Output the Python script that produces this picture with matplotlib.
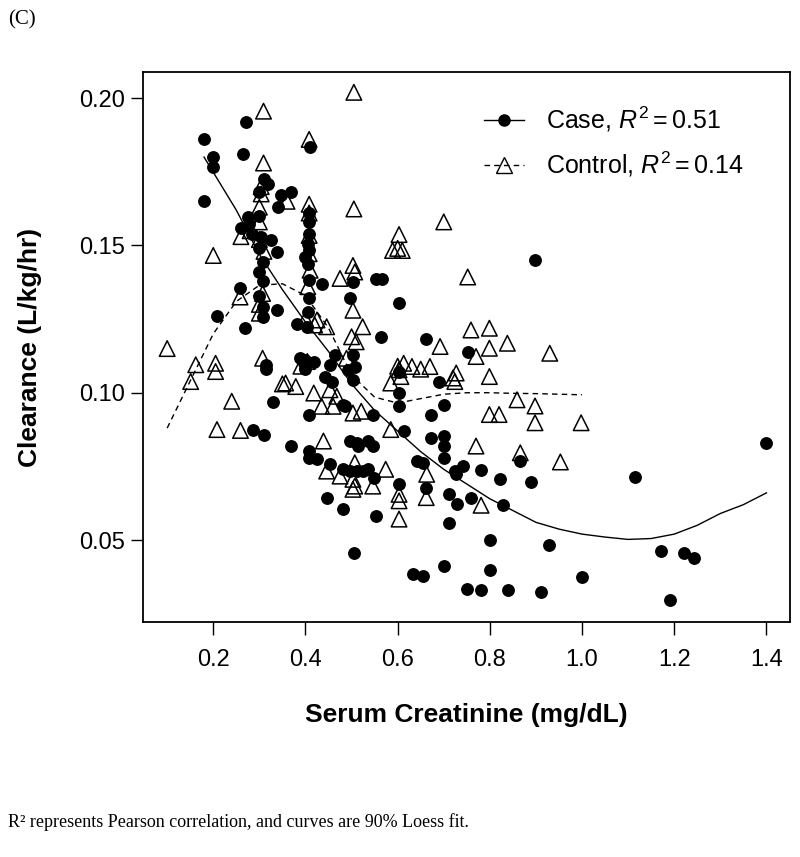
import matplotlib
matplotlib.use('Agg')
import matplotlib.pyplot as plt
from matplotlib.lines import Line2D

# case (filled circles): serum creatinine vs clearance
case_x = [0.18, 0.18, 0.20, 0.20, 0.27, 0.265, 0.31, 0.318, 0.347, 0.368,
          0.34, 0.41, 0.408, 0.408, 0.275, 0.278, 0.283, 0.304, 0.325, 0.339,
          0.307, 0.307, 0.258, 0.208, 0.268, 0.307, 0.307, 0.339, 0.408, 0.405,
          0.408, 0.405, 0.408, 0.408, 0.405, 0.435, 0.382, 0.404, 0.503, 0.496,
          0.553, 0.567, 0.603, 0.564, 0.661, 0.897, 0.752, 0.315, 0.315, 0.329,
          0.389, 0.396, 0.418, 0.464, 0.453, 0.443, 0.457, 0.503, 0.507, 0.503,
          0.492, 0.482, 0.603, 0.69, 0.603, 0.603, 0.701, 0.407, 0.486, 0.546,
          0.672, 0.286, 0.311, 0.368, 0.407, 0.407, 0.425, 0.453, 0.482, 0.496,
          0.511, 0.525, 0.496, 0.511, 0.535, 0.546, 0.514, 0.613, 0.672, 0.701,
          0.701, 0.701, 0.866, 0.642, 0.656, 0.724, 0.742, 0.727, 0.781, 0.821,
          0.889, 0.548, 0.535, 0.603, 0.662, 0.711, 0.729, 0.759, 0.828, 0.446,
          0.482, 0.553, 0.711, 0.80, 0.928, 0.505, 0.701, 0.80, 0.633, 0.654,
          0.75, 0.78, 0.84, 0.91, 1.00, 1.19, 1.172, 1.222, 1.242, 1.114,
          1.40, 0.30, 0.30, 0.30, 0.30, 0.30, 0.40, 0.40,
          0.40, 0.26]
case_y = [0.186, 0.165, 0.180, 0.1765, 0.192, 0.181, 0.1725, 0.171, 0.167, 0.168,
          0.163, 0.1834, 0.161, 0.158, 0.1596, 0.1573, 0.154, 0.153, 0.152, 0.1477,
          0.1444, 0.138, 0.1354, 0.126, 0.1219, 0.129, 0.1258, 0.128, 0.154, 0.1506,
          0.1483, 0.1438, 0.1382, 0.132, 0.1275, 0.137, 0.1235, 0.1224, 0.1376, 0.132,
          0.1385, 0.1385, 0.1305, 0.119, 0.1181, 0.1449, 0.114, 0.1095, 0.108, 0.097,
          0.1117, 0.110, 0.1106, 0.1128, 0.1095, 0.1055, 0.1038, 0.1128, 0.1089, 0.1044,
          0.1078, 0.0959, 0.107, 0.1035, 0.0999, 0.0955, 0.0958, 0.0926, 0.0954, 0.0926,
          0.0926, 0.0875, 0.0858, 0.0819, 0.0802, 0.078, 0.0774, 0.0757, 0.074, 0.0734,
          0.0734, 0.0734, 0.0836, 0.083, 0.0836, 0.0819, 0.0819, 0.087, 0.0847, 0.0852,
          0.0819, 0.0779, 0.0768, 0.0768, 0.0762, 0.0734, 0.0751, 0.0723, 0.0736, 0.0708,
          0.0697, 0.0712, 0.074, 0.0689, 0.0675, 0.0655, 0.0622, 0.0644, 0.062, 0.0641,
          0.0605, 0.0582, 0.0557, 0.0501, 0.0484, 0.0456, 0.0413, 0.0397, 0.0383, 0.0378,
          0.0334, 0.0329, 0.0329, 0.0323, 0.0375, 0.0295, 0.0461, 0.0456, 0.0438, 0.0714,
          0.083, 0.168, 0.160, 0.149, 0.141, 0.133, 0.111, 0.108,
          0.146, 0.156]

# control (open triangles)
ctrl_x = [0.10, 0.162, 0.151, 0.20, 0.205, 0.205, 0.208, 0.24, 0.259, 0.258,
          0.309, 0.505, 0.408, 0.309, 0.304, 0.304, 0.36, 0.505, 0.408, 0.408,
          0.307, 0.307, 0.357, 0.379, 0.408, 0.408, 0.41, 0.405, 0.425, 0.446,
          0.475, 0.503, 0.507, 0.503, 0.50, 0.51, 0.404, 0.489, 0.418, 0.453,
          0.468, 0.603, 0.589, 0.61, 0.752, 0.524, 0.759, 0.799, 0.692, 0.838,
          0.799, 0.770, 0.93, 0.613, 0.631, 0.670, 0.603, 0.607, 0.727, 0.724,
          0.799, 0.585, 0.859, 0.898, 0.435, 0.46, 0.503, 0.521, 0.799, 0.82,
          0.898, 0.585, 0.77, 0.866, 0.953, 0.663, 0.507, 0.574, 0.507, 0.546,
          0.603, 0.603, 0.662, 0.781, 0.603, 0.998, 0.439, 0.446, 0.475, 0.503,
          0.503, 0.70, 0.28, 0.30, 0.30, 0.30, 0.31, 0.26, 0.30, 0.30,
          0.40, 0.42, 0.39, 0.35, 0.60, 0.60, 0.65, 0.72]
ctrl_y = [0.115, 0.1095, 0.1038, 0.1466, 0.110, 0.1072, 0.0875, 0.0971, 0.0872, 0.1325,
          0.1956, 0.202, 0.186, 0.178, 0.170, 0.1675, 0.165, 0.1624, 0.164, 0.161,
          0.1337, 0.1117, 0.1033, 0.1021, 0.1534, 0.1472, 0.1416, 0.136, 0.1247, 0.1224,
          0.1388, 0.1432, 0.141, 0.128, 0.119, 0.1173, 0.1106, 0.1117, 0.0999, 0.101,
          0.0988, 0.1537, 0.1483, 0.1483, 0.1393, 0.1224, 0.1213, 0.1219, 0.1157, 0.1168,
          0.1151, 0.1123, 0.1134, 0.110, 0.1089, 0.1089, 0.1078, 0.1055, 0.1067, 0.1038,
          0.1055, 0.1033, 0.0976, 0.0955, 0.0954, 0.0954, 0.0931, 0.0937, 0.0926, 0.0926,
          0.0898, 0.0875, 0.0819, 0.0796, 0.0765, 0.0723, 0.0762, 0.074, 0.0683, 0.0683,
          0.0655, 0.0633, 0.0644, 0.0618, 0.0571, 0.0898, 0.0836, 0.0734, 0.0717, 0.0706,
          0.0672, 0.158, 0.155, 0.163, 0.158, 0.152, 0.148, 0.153, 0.130, 0.127,
          0.125, 0.123, 0.109, 0.103, 0.149, 0.109, 0.108, 0.105]

# loess curves
fit_case_x = [0.18, 0.25, 0.30, 0.35, 0.40, 0.45, 0.50, 0.55, 0.60, 0.65, 0.70,
              0.75, 0.80, 0.85, 0.90, 0.95, 1.00, 1.05, 1.10, 1.15, 1.20, 1.25,
              1.30, 1.35, 1.40]
fit_case_y = [0.180, 0.162, 0.147, 0.135, 0.124, 0.114, 0.103, 0.094, 0.087, 0.080,
              0.074, 0.069, 0.064, 0.060, 0.056, 0.0537, 0.052, 0.051, 0.0502, 0.0505,
              0.052, 0.055, 0.059, 0.062, 0.066]
fit_ctrl_x = [0.10, 0.15, 0.20, 0.25, 0.30, 0.35, 0.40, 0.45, 0.50, 0.55, 0.60,
              0.65, 0.70, 0.75, 0.80, 0.85, 0.90, 0.95, 1.00]
fit_ctrl_y = [0.088, 0.104, 0.120, 0.131, 0.1365, 0.137, 0.133, 0.122, 0.106, 0.0985,
              0.0965, 0.098, 0.0995, 0.100, 0.100, 0.0998, 0.0997, 0.0995, 0.0993]

plt.rcParams['font.family'] = 'Liberation Sans'
plt.rcParams['mathtext.fontset'] = 'custom'
plt.rcParams['mathtext.rm'] = 'Liberation Sans'
plt.rcParams['mathtext.it'] = 'Liberation Sans:italic'

fig = plt.figure(figsize=(8, 8.57), dpi=100)
ax = fig.add_axes([0.179, 0.274, 0.809, 0.642])

ax.scatter(case_x, case_y, marker='o', s=68, color='black', zorder=2)
ax.scatter(ctrl_x, ctrl_y, marker='^', s=125, facecolors='none',
           edgecolors='black', linewidths=1.1, zorder=3)
ax.plot(fit_case_x, fit_case_y, '-', color='black', lw=1, zorder=4)
ax.plot(fit_ctrl_x, fit_ctrl_y, color='black', lw=1, dashes=(4, 3), zorder=4)

ax.set_xlim(0.048, 1.452)
ax.set_ylim(0.0221, 0.2089)
ax.set_xticks([0.2, 0.4, 0.6, 0.8, 1.0, 1.2, 1.4])
ax.set_yticks([0.05, 0.10, 0.15, 0.20])
ax.set_yticklabels(['0.05', '0.10', '0.15', '0.20'])
ax.tick_params(direction='out', length=9, width=1, labelsize=17, color='black')
ax.tick_params(axis='x', pad=10)
ax.tick_params(axis='y', pad=4)
for s in ax.spines.values():
    s.set_linewidth(1.3)

ax.set_xlabel('Serum Creatinine (mg/dL)', fontsize=19, fontweight='bold')
ax.set_ylabel('Clearance (L/kg/hr)', fontsize=19, fontweight='bold')
ax.xaxis.set_label_coords(0.5, -0.169)
ax.xaxis.label.set_va('center')
ax.yaxis.set_label_coords(-0.175, 0.5)
ax.yaxis.label.set_va('center')

handles = [Line2D([], [], color='black', marker='o', ms=8, lw=1),
           Line2D([], [], color='black', marker='^', ms=11, mfc='none', lw=1, dashes=(4, 3))]
ax.legend(handles, [r'Case, $R^2 = 0.51$', r'Control, $R^2 = 0.14$'],
          loc='upper left', bbox_to_anchor=(0.526, 0.94), frameon=False,
          fontsize=18, handlelength=1.6, handletextpad=0.9, labelspacing=0.6,
          borderpad=0, borderaxespad=0)

fig.text(0.01, 1 - 20 / 857, '(C)', family='Liberation Serif', fontsize=15, va='center')
fig.text(0.01, 1 - 822 / 857, 'R² represents Pearson correlation, and curves are 90% Loess fit.',
         family='Liberation Serif', fontsize=13, va='center')

fig.savefig('out.png', dpi=100)
